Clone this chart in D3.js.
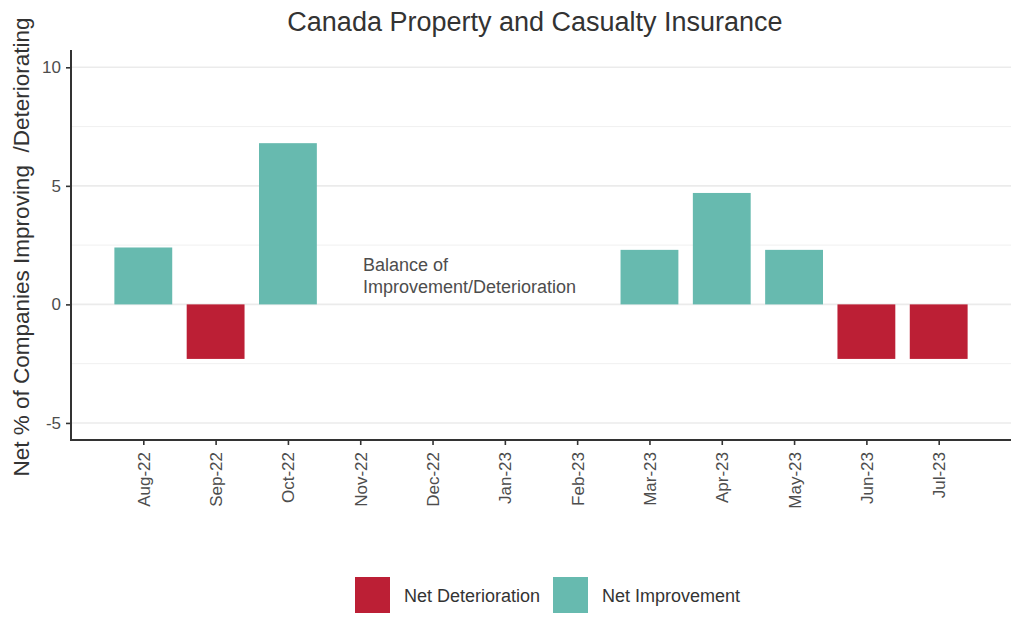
<!DOCTYPE html>
<html><head><meta charset="utf-8">
<script src="https://cdn.jsdelivr.net/npm/d3@7"></script>
<style>body{margin:0;background:#fff;} text{font-family:"Liberation Sans",Arial,sans-serif;}</style>
</head><body><svg id="c" width="1024" height="640"></svg>
<script>
const months = ["Aug-22","Sep-22","Oct-22","Nov-22","Dec-22","Jan-23","Feb-23","Mar-23","Apr-23","May-23","Jun-23","Jul-23"];
const values = [2.4,-2.3,6.8,null,null,null,null,2.3,4.7,2.3,-2.3,-2.3];
const yTicks = [-5,0,5,10];
const yMinor = [-2.5,2.5,7.5];
const legendLabels = ["Net Deterioration","Net Improvement"];
const colors = {"Net Deterioration":"#BC1F35","Net Improvement":"#67BAAF"};

const svg = d3.select("#c");
const L=71, R=1011, T=50, B=440;
const x = d3.scaleLinear().domain([-1, months.length]).range([L,R]);
const y = d3.scaleLinear().domain([-5.72,10.73]).range([B,T]);
const step = x(1)-x(0), bw = step*0.8;

const g = svg.append("g");
g.selectAll(".gmin").data(yMinor).join("line").attr("x1",L).attr("x2",R)
 .attr("y1",d=>y(d)).attr("y2",d=>y(d)).attr("stroke","#f0f0f0").attr("stroke-width",1);
g.selectAll(".gmaj").data(yTicks).join("line").attr("x1",L).attr("x2",R)
 .attr("y1",d=>y(d)).attr("y2",d=>y(d)).attr("stroke","#ebebeb").attr("stroke-width",1.6);

const data = months.map((m,i)=>({m,i,v:values[i]})).filter(d=>d.v!==null);
g.selectAll(".bar").data(data).join("rect")
 .attr("x",d=>x(d.i)-bw/2).attr("width",bw)
 .attr("y",d=>y(Math.max(0,d.v))).attr("height",d=>Math.abs(y(d.v)-y(0)))
 .attr("fill",d=>d.v<0?colors["Net Deterioration"]:colors["Net Improvement"]);

// axes
const ya = svg.append("g").attr("transform",`translate(${L},0)`)
 .call(d3.axisLeft(y).tickValues(yTicks).tickSize(5).tickPadding(5).tickFormat(d=>String(d)));
ya.select(".domain").remove();
ya.selectAll("line").attr("stroke","#333").attr("stroke-width",1.6);
ya.selectAll("text").attr("font-size",17).attr("fill","#4d4d4d");
svg.append("line").attr("x1",L).attr("x2",L).attr("y1",T).attr("y2",B+1).attr("stroke","#333").attr("stroke-width",2);

const xa = svg.append("g").attr("transform",`translate(0,${B})`)
 .call(d3.axisBottom(x).tickValues(d3.range(months.length)).tickSize(5).tickFormat(i=>months[i]));
xa.select(".domain").remove();
xa.selectAll("line").attr("stroke","#333").attr("stroke-width",1.6);
xa.selectAll("text").attr("font-size",17).attr("fill","#4d4d4d")
 .attr("transform","rotate(-90)").attr("text-anchor","end").attr("dy","0.35em").attr("x",-12).attr("y",0);
svg.append("line").attr("x1",L-1).attr("x2",R).attr("y1",B).attr("y2",B).attr("stroke","#333").attr("stroke-width",2);

// title
svg.append("text").attr("x",535).attr("y",31).attr("text-anchor","middle")
 .attr("font-size",27).attr("fill","#333").text("Canada Property and Casualty Insurance");
// y label
svg.append("text").attr("transform",`translate(29,247) rotate(-90)`).attr("text-anchor","middle")
 .attr("font-size",22.5).attr("fill","#333").attr("xml:space","preserve").style("white-space","pre")
 .text("Net % of Companies Improving  /Deteriorating");

// annotation
const ann = svg.append("text").attr("x",363).attr("font-size",18).attr("fill","#4d4d4d");
ann.append("tspan").attr("x",363).attr("y",271).text("Balance of");
ann.append("tspan").attr("x",363).attr("y",293).text("Improvement/Deterioration");

// legend
const lg = svg.append("g");
const lx = [355,553];
legendLabels.forEach((k,i)=>{
  lg.append("rect").attr("x",lx[i]).attr("y",577).attr("width",35).attr("height",36).attr("fill",colors[k]);
  lg.append("text").attr("x",lx[i]+49).attr("y",602).attr("font-size",18).attr("fill","#333").text(k);
});
</script></body></html>
